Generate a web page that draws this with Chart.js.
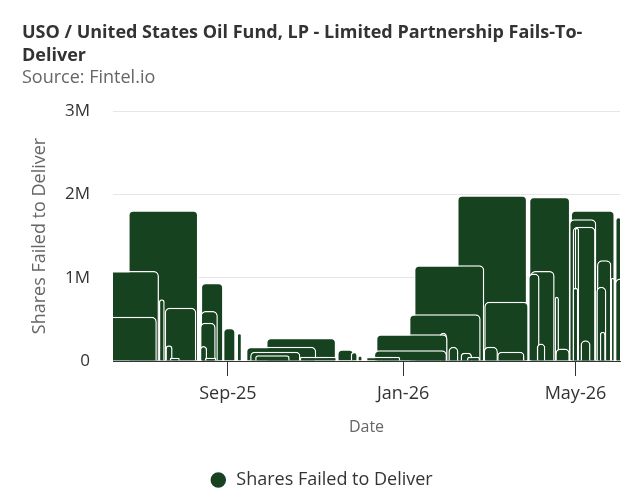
<!DOCTYPE html>
<html>
<head>
<meta charset="utf-8">
<script src="https://cdn.jsdelivr.net/npm/chart.js@4.4.1/dist/chart.umd.min.js"></script>
<style>
  html, body { margin: 0; padding: 0; background: #ffffff; }
  #wrap { width: 637px; height: 502px; }
</style>
</head>
<body>
<div id="wrap"><canvas id="chart" width="637" height="502"></canvas></div>
<script>
// ---- data ----
const seriesName = 'Shares Failed to Deliver';
const titleLines = ['USO / United States Oil Fund, LP - Limited Partnership Fails-To-', 'Deliver'];
const sourceText = 'Source: Fintel.io';
const xTitle = 'Date';

// settlement dates, in drawing order (zero days surround each reported fail)
const dates = [
  '2026-01-14','2026-03-04','2026-04-22',
  '2026-03-15','2026-04-13','2026-05-12',
  '2026-04-12','2026-05-13','2026-06-13',
  '2025-05-30','2025-07-18','2025-09-05',
  '2026-05-26','2026-05-31','2026-06-05',
  '2026-04-17','2026-05-06','2026-05-25',
  '2026-04-21','2026-05-07','2026-05-23',
  '2026-04-29','2026-05-02','2026-05-05',
  '2026-05-11','2026-05-21','2026-05-31',
  '2025-12-15','2026-02-02','2026-03-23',
  '2025-05-04','2025-06-21','2025-08-08',
  '2026-03-22','2026-04-08','2026-04-25',
  '2026-03-25','2026-04-02','2026-04-10',
  '2026-05-24','2026-05-27','2026-05-30',
  '2026-05-25','2026-06-01','2026-06-08',
  '2025-08-05','2025-08-21','2025-09-06',
  '2026-05-12','2026-05-19','2026-05-26',
  '2026-04-27','2026-05-01','2026-05-05',
  '2026-04-15','2026-04-18','2026-04-21',
  '2025-07-13','2025-07-17','2025-07-21',
  '2026-02-11','2026-03-14','2026-04-14',
  '2025-07-08','2025-07-30','2025-08-21',
  '2025-08-07','2025-08-19','2025-08-31',
  '2025-12-11','2026-01-30','2026-03-21',
  '2025-05-01','2025-06-19','2025-08-07',
  '2025-08-07','2025-08-18','2025-08-29',
  '2025-08-24','2025-09-02','2025-09-11',
  '2026-05-16','2026-05-20','2026-05-24',
  '2026-01-24','2026-01-29','2026-02-03',
  '2025-09-05','2025-09-09','2025-09-13',
  '2025-11-18','2026-01-07','2026-02-26',
  '2025-09-03','2025-10-22','2025-12-10',
  '2026-05-01','2026-05-08','2026-05-15',
  '2026-04-01','2026-04-07','2026-04-13',
  '2025-07-17','2025-07-22','2025-07-27',
  '2025-08-10','2025-08-15','2025-08-20',
  '2025-08-20','2025-10-08','2025-11-26',
  '2026-01-29','2026-02-05','2026-02-12',
  '2026-02-21','2026-03-03','2026-03-13',
  '2026-04-12','2026-04-22','2026-05-02',
  '2025-11-10','2025-11-22','2025-12-04',
  '2025-11-16','2026-01-06','2026-02-26',
  '2025-08-30','2025-10-04','2025-11-08',
  '2026-02-26','2026-03-17','2026-04-05',
  '2025-11-23','2025-11-28','2025-12-03',
  '2026-02-06','2026-02-14','2026-02-22',
  '2025-09-08','2025-10-02','2025-10-26',
  '2025-11-28','2025-12-02','2025-12-06',
  '2026-02-10','2026-02-19','2026-02-28',
  '2025-11-24','2025-12-18','2026-01-11',
  '2025-10-08','2025-11-03','2025-11-29',
  '2025-07-19','2025-07-26','2025-08-02',
  '2025-08-12','2025-08-20','2025-08-28'
];
const shares = [
  0, 1990000, 0,
  0, 1970000, 0,
  0, 1810000, 0,
  0, 1810000, 0,
  0, 1730000, 0,
  0, 1700000, 0,
  0, 1610000, 0,
  0, 1600000, 0,
  0, 1210000, 0,
  0, 1150000, 0,
  0, 1080000, 0,
  0, 1080000, 0,
  0, 1050000, 0,
  0, 1000000, 0,
  0,  990000, 0,
  0,  940000, 0,
  0,  890000, 0,
  0,  880000, 0,
  0,  770000, 0,
  0,  740000, 0,
  0,  710000, 0,
  0,  640000, 0,
  0,  600000, 0,
  0,  560000, 0,
  0,  530000, 0,
  0,  460000, 0,
  0,  400000, 0,
  0,  350000, 0,
  0,  340000, 0,
  0,  340000, 0,
  0,  320000, 0,
  0,  280000, 0,
  0,  250000, 0,
  0,  210000, 0,
  0,  190000, 0,
  0,  180000, 0,
  0,  170000, 0,
  0,  170000, 0,
  0,  170000, 0,
  0,  150000, 0,
  0,  140000, 0,
  0,  130000, 0,
  0,  110000, 0,
  0,  110000, 0,
  0,  110000, 0,
  0,  100000, 0,
  0,   70000, 0,
  0,   70000, 0,
  0,   50000, 0,
  0,   50000, 0,
  0,   50000, 0,
  0,   40000, 0,
  0,   40000, 0
];

const rangeStart = '2025-06-13';
const rangeEnd = '2026-06-01';
const xTickDates = ['2025-09-01', '2026-01-01', '2026-05-01'];
const xTickLabels = ['Sep-25', 'Jan-26', 'May-26'];
const yTickValues = [0, 1000000, 2000000, 3000000];
const yTickLabels = ['0', '1M', '2M', '3M'];

// ---- helpers ----
function dayNumber(s) {
  const p = s.split('-').map(Number);
  return Date.UTC(p[0], p[1] - 1, p[2]) / 86400000;
}

Chart.defaults.font.family = "'Open Sans', 'Noto Sans', sans-serif";

const points = dates.map((d, i) => ({ x: dayNumber(d), y: shares[i] }));

new Chart(document.getElementById('chart'), {
  type: 'bar',
  data: {
    datasets: [{
      label: seriesName,
      data: points,
      backgroundColor: '#16421f',
      borderColor: '#ffffff',
      borderWidth: 1.5,
      borderRadius: 5,
      barThickness: 'flex',
      categoryPercentage: 1,
      barPercentage: 1,
      inflateAmount: 0,
      clip: 0
    }]
  },
  options: {
    responsive: false,
    animation: false,
    events: [],
    layout: { padding: { left: 22, right: 17, top: 0, bottom: 3 } },
    scales: {
      x: {
        type: 'linear',
        min: dayNumber(rangeStart),
        max: dayNumber(rangeEnd),
        offset: false,
        afterBuildTicks: (s) => { s.ticks = xTickDates.map((d) => ({ value: dayNumber(d) })); },
        afterFit: (s) => { s.height = 100; },
        ticks: {
          callback: (v, i) => xTickLabels[i],
          color: '#333333',
          font: { size: 18 },
          padding: 7,
          maxRotation: 0,
          autoSkip: false
        },
        grid: { drawOnChartArea: false, drawTicks: true, tickLength: 15, tickColor: '#333333', offset: false },
        border: { display: true, color: '#333333', width: 1 },
        title: { display: true, text: xTitle, color: '#666666', font: { size: 16 }, padding: { top: 0, bottom: 24 } }
      },
      y: {
        min: 0,
        max: 3000000,
        afterBuildTicks: (s) => { s.ticks = yTickValues.map((v) => ({ value: v })); },
        afterFit: (s) => { s.width = 91; },
        ticks: {
          callback: (v, i) => yTickLabels[i],
          color: '#333333',
          font: { size: 17 },
          padding: 23
        },
        grid: { color: '#e6e6e6', drawTicks: false },
        border: { display: false },
        title: { display: true, text: seriesName, color: '#666666', font: { size: 18 }, padding: { top: 7, bottom: 0 } }
      }
    },
    plugins: {
      title: {
        display: true, align: 'start', text: titleLines, color: '#333333',
        font: { size: 18, weight: 'bold', lineHeight: 1.28 }, padding: { top: 21, bottom: 0 }
      },
      subtitle: {
        display: true, align: 'start', text: sourceText, color: '#666666',
        font: { size: 18, lineHeight: 1.22 }, padding: { top: 0, bottom: 22 }
      },
      legend: {
        position: 'bottom',
        labels: { usePointStyle: true, pointStyle: 'circle', boxHeight: 12, color: '#333333', font: { size: 18 }, padding: 10 }
      },
      tooltip: { enabled: false }
    }
  }
});
</script>
</body>
</html>
